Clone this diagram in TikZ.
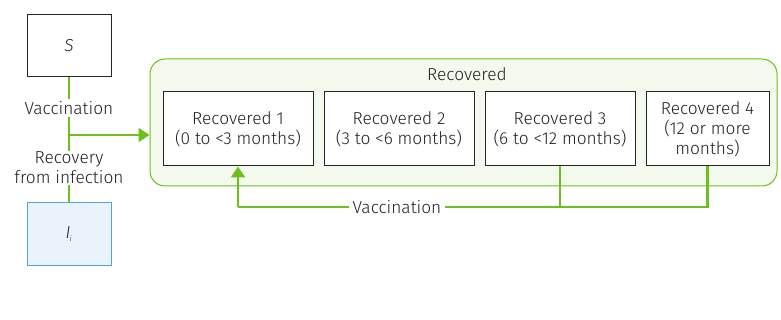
\documentclass[tikz,border=0pt]{standalone}
\usepackage{fontspec}
\setmainfont{Fira Sans Light}
\usetikzlibrary{arrows.meta}
\definecolor{grn}{HTML}{6CC01E}
\definecolor{grnfill}{HTML}{F3F9EC}
\definecolor{bluefill}{HTML}{EAF3FB}
\definecolor{blueline}{HTML}{4BA6DA}
\definecolor{txt}{HTML}{222222}
\begin{document}
\begin{tikzpicture}[x=1pt,y=-1pt,
  font=\fontsize{17.3}{20}\selectfont, text=txt,
  box/.style={draw=black!85, line width=1pt, fill=white, minimum height=74pt, align=center, inner sep=0pt},
  flow/.style={draw=grn, line width=2.4pt},
  arr/.style={flow, -{Triangle[length=11pt,width=14pt]}},
  lbl/.style={fill=white, inner sep=2pt, align=center}]
\useasboundingbox (0,0) rectangle (781,320);
% outer recovered group
\node[draw=grn, fill=grnfill, line width=1pt, rounded corners=15pt, minimum width=627pt, minimum height=127pt, inner sep=0pt] (grp) at (463.5,122.5) {};
\node (grptitle) at (467,74) {Recovered};
\node[box, minimum width=150pt] (r1) at (238,129) {Recovered 1\\(0 to <3 months)};
\node[box, minimum width=150pt] (r2) at (399,129) {Recovered 2\\(3 to <6 months)};
\node[box, minimum width=150pt] (r3) at (560,129) {Recovered 3\\(6 to <12 months)};
\node[box, minimum width=123pt] (r4) at (707.5,129) {Recovered 4\\(12 or more\\months)};
% S and I
\node[box, minimum width=84pt, minimum height=62pt] (s) at (69,46) {\itshape S};
\node[draw=blueline, fill=bluefill, line width=1pt, minimum width=84pt, minimum height=62pt, inner sep=0pt] (i) at (69,234) {\itshape I\textsubscript{\kern-1pt\fontsize{8}{9}\selectfont i}};
% vertical flow
\draw[flow] (s.south) -- (i.north);
\coordinate (j) at (69,135);
\draw[arr] (j) -- (grp.west |- j);
\node[lbl] (vac1) at (69,108) {Vaccination};
\node[lbl, inner sep=1pt] (rec) at (69,168) {Recovery\\from infection};
% vaccination loop
\coordinate (b3) at (r3.south |- 0,207);
\coordinate (b4) at (r4.south |- 0,207);
\coordinate (b1) at (r1.south |- 0,207);
\draw[flow] (r3.south) -- (b3);
\draw[flow] (r4.south) -- (b4) -- (b1);
\draw[arr] (b1) -- (r1.south);
\node[lbl, inner sep=4pt] (vac2) at (397,207) {Vaccination};
\end{tikzpicture}
\end{document}
